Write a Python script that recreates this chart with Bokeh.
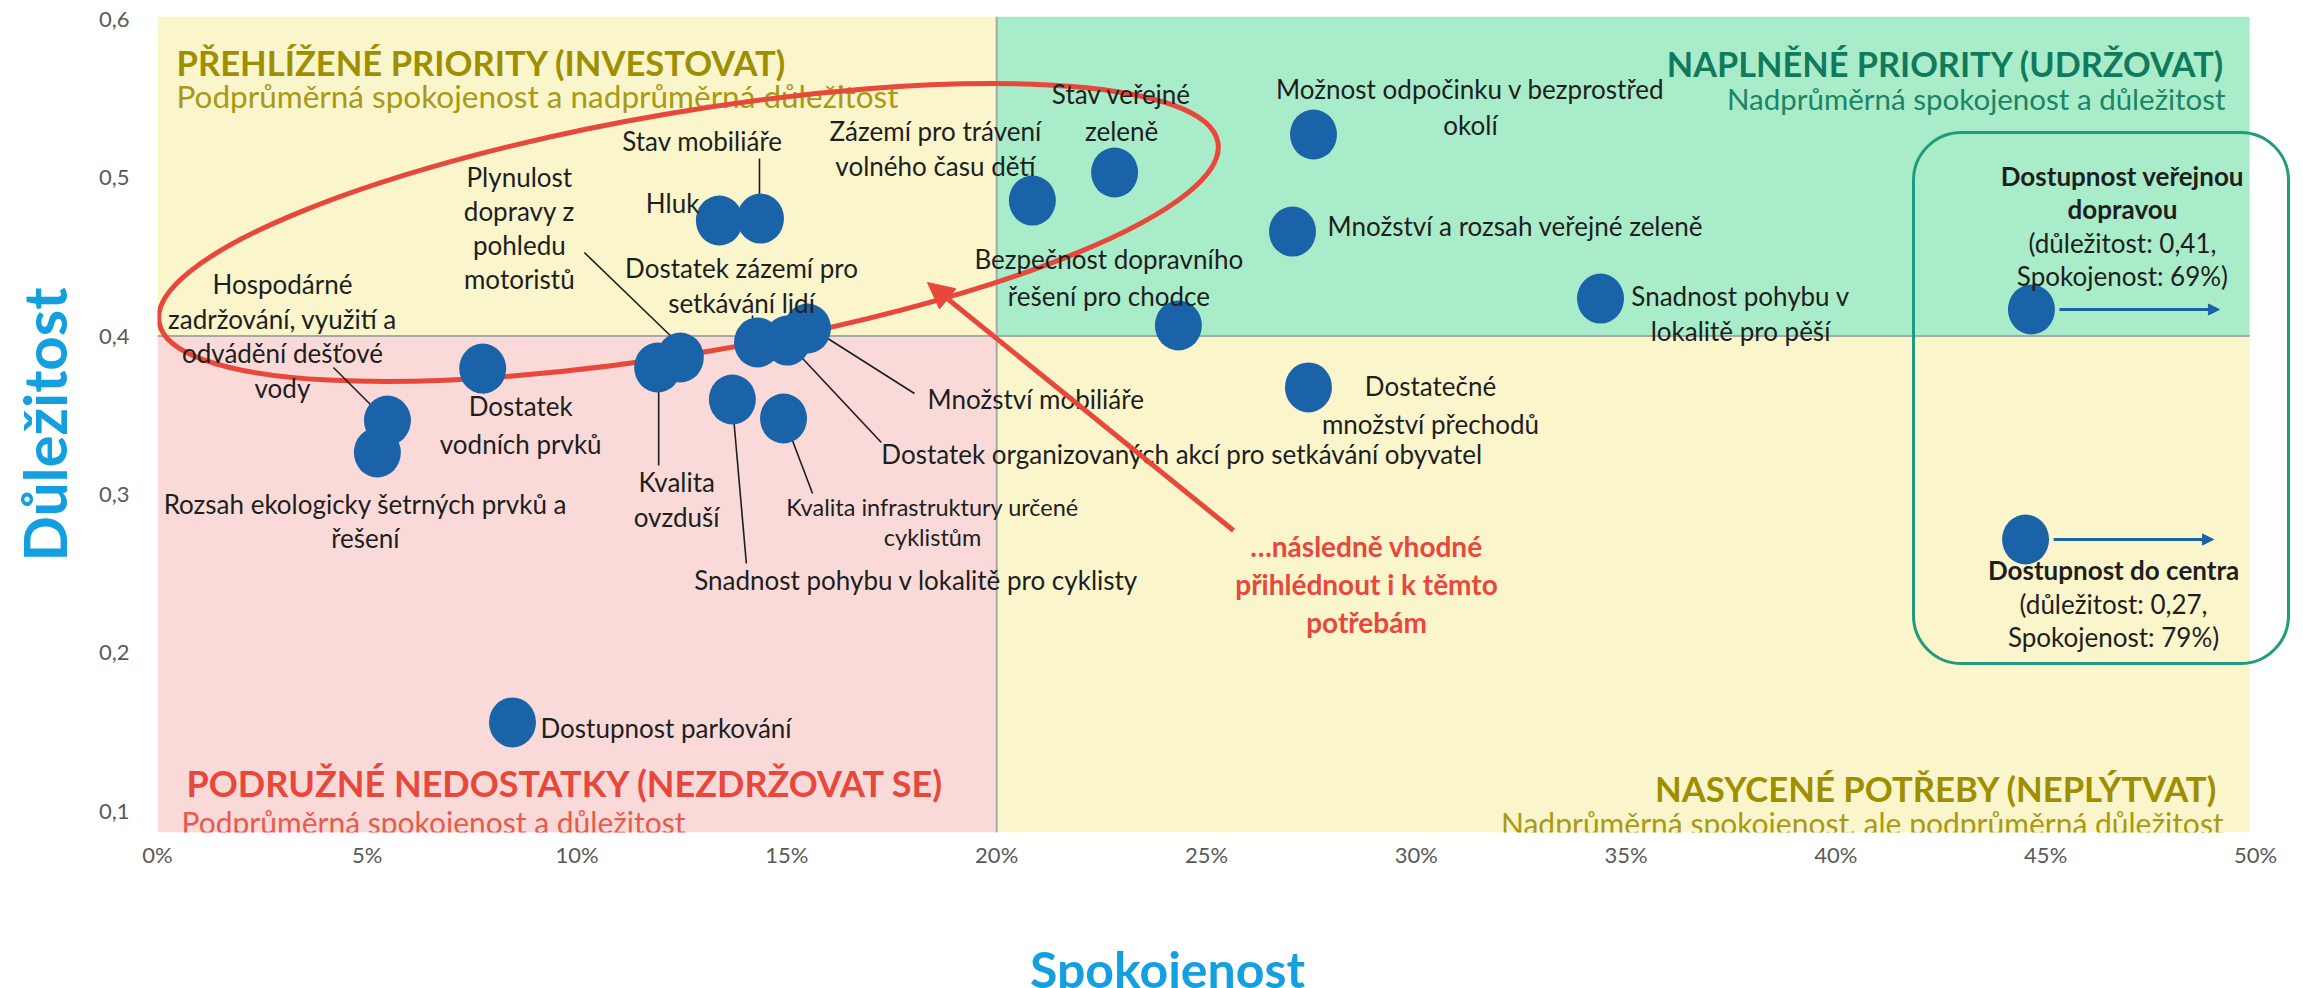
import math
from bokeh.plotting import figure
from bokeh.layouts import column
from bokeh.models import (Range1d, FixedTicker, CustomJSTickFormatter, Arrow,
                          NormalHead, BoxAnnotation, ColumnDataSource)
from bokeh.core.properties import value
from bokeh.embed import file_html
from bokeh.resources import INLINE

# ---------------- data ----------------
factors = [
    "Hospodárné\nzadržování, využití a\nodvádění dešťové\nvody",
    "Rozsah ekologicky šetrných prvků a\nřešení",
    "Dostatek\nvodních prvků",
    "Dostupnost parkování",
    "Kvalita\novzduší",
    "Plynulost\ndopravy z\npohledu\nmotoristů",
    "Hluk",
    "Snadnost pohybu v lokalitě pro cyklisty",
    "Dostatek zázemí pro\nsetkávání lidí",
    "Stav mobiliáře",
    "Kvalita infrastruktury určené\ncyklistům",
    "Dostatek organizovaných akcí pro setkávání obyvatel",
    "Množství mobiliáře",
    "Zázemí pro trávení\nvolného času dětí",
    "Stav veřejné\nzeleně",
    "Bezpečnost dopravního\nřešení pro chodce",
    "Množství a rozsah veřejné zeleně",
    "Dostatečné\nmnožství přechodů",
    "Možnost odpočinku v bezprostřed\nokolí",
    "Snadnost pohybu v\nlokalitě pro pěší",
]
satisfaction = [5.48, 5.24, 7.75, 8.46, 11.92, 12.46, 13.39, 13.70, 14.30, 14.37,
                14.92, 15.01, 15.49, 20.85, 22.81, 24.33, 27.05, 27.43, 27.55, 34.39]
importance = [0.3467, 0.3265, 0.3795, 0.1561, 0.3802, 0.3865, 0.4730, 0.3600, 0.3960, 0.4742,
              0.3480, 0.3972, 0.4048, 0.4856, 0.5033, 0.4067, 0.4660, 0.3676, 0.5273, 0.4237]

# factors whose satisfaction lies beyond the axis (drawn at the chart edge with an arrow)
offscale_factors = ["Dostupnost veřejnou\ndopravou", "Dostupnost do centra"]
offscale_importance = [0.41, 0.27]
offscale_satisfaction = [69, 79]
offscale_shown_x = [44.66, 44.52]
offscale_shown_y = [0.4168, 0.2716]

x_ticks = [0, 5, 10, 15, 20, 25, 30, 35, 40, 45, 50]
y_ticks = [0.1, 0.2, 0.3, 0.4, 0.5, 0.6]
avg_satisfaction = 20
avg_importance = 0.4

x_title = "Spokojenost"
y_title = "Důležitost"
quadrant_titles = ["PŘEHLÍŽENÉ PRIORITY (INVESTOVAT)", "NAPLNĚNÉ PRIORITY (UDRŽOVAT)",
                   "PODRUŽNÉ NEDOSTATKY (NEZDRŽOVAT SE)", "NASYCENÉ POTŘEBY (NEPLÝTVAT)"]
quadrant_subtitles = ["Podprůměrná spokojenost a nadprůměrná důležitost",
                      "Nadprůměrná spokojenost a důležitost",
                      "Podprůměrná spokojenost a důležitost",
                      "Nadprůměrná spokojenost, ale podprůměrná důležitost"]
callout_text = "…následně vhodné\npřihlédnout i k těmto\npotřebám"

# ---------------- layout / style ----------------
FONT = "Lato"
W, H = 2303, 988
H_MAIN = 880                       # main chart height; the x title strip sits below it
B_LEFT, B_TOP, B_BOTTOM, B_RIGHT = 157, 16, 48, 0
PX_X = 41.96                       # px per 1 % satisfaction
X0, X1 = 0, (W - B_LEFT - B_RIGHT) / PX_X
Y0, Y1 = 0.0866, 0.6018
QUAD_RIGHT = 49.86
FRAME_H = H_MAIN - B_TOP - B_BOTTOM
PX_Y = FRAME_H / (Y1 - Y0)

def sx_to_x(px):   # canvas px -> data x
    return X0 + (px - B_LEFT) / PX_X

def sy_to_y(py):   # canvas px -> data y
    return Y1 - (py - B_TOP) / PX_Y

BLUE = "#1B63A8"
RED = "#E8473B"
OLIVE = "#9E8F00"
OLIVE2 = "#A89A14"
TEAL = "#127A5C"
TEAL2 = "#1D8466"
LABEL_C = "#1E1E1E"
AXIS_BLUE = "#14A0E0"

# label layout: offset of label-block centre from point (px), align, line spacing, font size
label_dx = [-105, -12, 38, 28, 19, -161, -20, 184, -16, -58, 149, 94, 120, -97, 7, -69.5, 35, 122, 157, 140]
label_dy = [-84.5, 68, 56, 6, 132.5, -130, -18, 181, -56.5, -78, 104, 113, 70, -52.5, -60.5, -48.5, -6, 18, -27, 14.5]
label_align = ["center", "center", "center", "left", "center", "center", "right", "center", "center", "center",
               "center", "left", "left", "center", "center", "center", "left", "center", "center", "center"]
label_spacing = [34.7, 34, 38, 35, 35, 34, 35, 35, 35, 35, 30, 35, 35, 35, 37, 37, 35, 38, 36, 35]
label_size = [26, 26, 26, 26, 26, 26, 26, 26, 26, 26, 23.5, 26, 26, 26, 26, 26, 26, 26, 26, 26]
# leader lines (from point, px): (dx1, dy1, dx2, dy2)
leaders = {0: (-54, -53, -9, -8), 2: (1, 5, 1, 25), 4: (1, 5, 1, 98), 5: (-96, -105, -8, -20),
           7: (0, 4, 14, 164), 8: (-5, -27, -5, -4), 9: (-1, -60, -1, -13), 10: (4, 9, 29, 75),
           11: (94, 102, 5, 7), 12: (107, 65, 3, -1)}
off_dx = [91, 88]
off_first_dy = [-134, 31]
off_spacing = 33.5

p = figure(width=W, height=H_MAIN, x_range=Range1d(X0, X1), y_range=Range1d(Y0, Y1),
           output_backend="svg", toolbar_location=None,
           min_border_left=B_LEFT, min_border_right=B_RIGHT,
           min_border_top=B_TOP, min_border_bottom=B_BOTTOM)
p.outline_line_color = None
p.grid.visible = False
p.background_fill_color = "white"
p.border_fill_color = "white"

# quadrants
p.quad(left=[X0, avg_satisfaction, X0, avg_satisfaction],
       right=[avg_satisfaction, QUAD_RIGHT, avg_satisfaction, QUAD_RIGHT],
       bottom=[avg_importance, avg_importance, Y0, Y0],
       top=[Y1, Y1, avg_importance, avg_importance],
       fill_color=["#FAF5CB", "#A9ECC9", "#F9DAD8", "#FAF5CB"], line_color=None)
p.segment(x0=[avg_satisfaction, X0], y0=[Y0, avg_importance],
          x1=[avg_satisfaction, QUAD_RIGHT], y1=[Y1, avg_importance],
          line_color="#A8A8A8", line_width=2)

# quadrant titles
def qtext(x, y, txt, dx, dy, align, size, bold, color):
    p.text(x=[x], y=[y], text=[txt], x_offset=dx, y_offset=dy, text_align=align,
           text_baseline="alphabetic", text_font=value(FONT), text_font_size=f"{size}px",
           text_font_style="bold" if bold else "normal", text_color=color)

qtext(X0, Y1, quadrant_titles[0], 19, 46, "left", 34.6, True, OLIVE)
qtext(X0, Y1, quadrant_subtitles[0], 19, 79, "left", 31.5, False, OLIVE2)
qtext(QUAD_RIGHT, Y1, quadrant_titles[1], -25, 47, "right", 34.3, True, TEAL)
qtext(QUAD_RIGHT, Y1, quadrant_subtitles[1], -24, 82, "right", 29.5, False, TEAL2)
qtext(X0, Y0, quadrant_titles[2], 29, -50, "left", 36, True, RED)
qtext(X0, Y0, quadrant_subtitles[2], 24, -11, "left", 30, False, "#E85A4C")
qtext(QUAD_RIGHT, Y0, quadrant_titles[3], -32, -44, "right", 34.7, True, OLIVE)
qtext(QUAD_RIGHT, Y0, quadrant_subtitles[3], -26, -10, "right", 30, False, OLIVE2)

# red ellipse + arrow (annotation of the overlooked cluster)
p.ellipse(x=[sx_to_x(688)], y=[sy_to_y(232)], width=[1074], height=[241], angle=[math.radians(9.64)],
          width_units="screen", height_units="screen", fill_alpha=0, line_color=RED, line_width=5)
ax_tail, ay_tail = sx_to_x(1233), sy_to_y(530)
p.add_layout(Arrow(end=NormalHead(size=26, fill_color=RED, line_color=RED),
                   x_start=ax_tail, y_start=ay_tail, x_end=sx_to_x(927), y_end=sy_to_y(282),
                   line_color=RED, line_width=5))
cl = callout_text.split("\n")
p.text(x=[ax_tail] * len(cl), y=[ay_tail] * len(cl), text=cl, x_offset=133,
       y_offset=[15 + 38 * i for i in range(len(cl))], text_align="center", text_baseline="middle",
       text_font=value(FONT), text_font_size="28px", text_font_style="bold", text_color=RED)

# teal box around off-scale factors
p.add_layout(BoxAnnotation(left=sx_to_x(1913), right=sx_to_x(2288), top=sy_to_y(132), bottom=sy_to_y(663),
                           border_radius=48, fill_alpha=0, line_color="#1F9B7D", line_alpha=1.0,
                           line_width=3, level="annotation"))

# leader lines
lx0, ly0, lx1, ly1 = [], [], [], []
for i, (a, b, c, d) in leaders.items():
    lx0.append(satisfaction[i] + a / PX_X); ly0.append(importance[i] - b / PX_Y)
    lx1.append(satisfaction[i] + c / PX_X); ly1.append(importance[i] - d / PX_Y)
p.segment(x0=lx0, y0=ly0, x1=lx1, y1=ly1, line_color="#1E1E1E", line_width=1.6)

# points
p.ellipse(x=satisfaction, y=importance, width=47, height=50, width_units="screen",
          height_units="screen", fill_color=BLUE, line_color=None)
p.ellipse(x=offscale_shown_x, y=offscale_shown_y, width=47, height=50, width_units="screen",
          height_units="screen", fill_color=BLUE, line_color=None)
for sx, sy in zip(offscale_shown_x, offscale_shown_y):
    p.add_layout(Arrow(end=NormalHead(size=11, fill_color=BLUE, line_color=BLUE),
                       x_start=sx + 28 / PX_X, y_start=sy, x_end=sx + 188 / PX_X, y_end=sy,
                       line_color=BLUE, line_width=3))

# point labels
groups = {}
for i, name in enumerate(factors):
    lines = name.split("\n")
    n = len(lines)
    for j, line in enumerate(lines):
        key = (label_align[i], label_size[i], False)
        g = groups.setdefault(key, dict(x=[], y=[], t=[], dx=[], dy=[]))
        g["x"].append(satisfaction[i]); g["y"].append(importance[i]); g["t"].append(line)
        g["dx"].append(label_dx[i]); g["dy"].append(label_dy[i] + (j - (n - 1) / 2) * label_spacing[i])

for k, name in enumerate(offscale_factors):
    bold_lines = name.split("\n")
    imp = f"{offscale_importance[k]:.2f}".replace(".", ",")
    detail = [f"(důležitost: {imp},", f"Spokojenost: {offscale_satisfaction[k]}%)"]
    for j, line in enumerate(bold_lines + detail):
        key = ("center", 26, j < len(bold_lines))
        g = groups.setdefault(key, dict(x=[], y=[], t=[], dx=[], dy=[]))
        g["x"].append(offscale_shown_x[k]); g["y"].append(offscale_shown_y[k]); g["t"].append(line)
        g["dx"].append(off_dx[k]); g["dy"].append(off_first_dy[k] + j * off_spacing)

for (align, size, bold), g in groups.items():
    src = ColumnDataSource(g)
    p.text(x="x", y="y", text="t", x_offset="dx", y_offset="dy", source=src,
           text_align=align, text_baseline="middle", text_font=value(FONT),
           text_font_size=f"{size}px", text_font_style="bold" if bold else "normal",
           text_color=LABEL_C)

# axes
for ax in (p.xaxis[0], p.yaxis[0]):
    ax.axis_line_color = None
    ax.major_tick_line_color = None
    ax.minor_tick_line_color = None
    ax.major_tick_out = 0
    ax.major_tick_in = 0
    ax.minor_tick_out = 0
    ax.major_label_text_font = FONT
    ax.major_label_text_font_size = "22px"
    ax.major_label_text_color = "#595959"
    ax.axis_label_text_font = FONT
    ax.axis_label_text_font_style = "bold"
    ax.axis_label_text_color = AXIS_BLUE

p.xaxis.ticker = FixedTicker(ticks=x_ticks)
p.yaxis.ticker = FixedTicker(ticks=y_ticks)
p.xaxis.formatter = CustomJSTickFormatter(code="return Math.round(tick) + '%';")
p.yaxis.formatter = CustomJSTickFormatter(code="return tick.toFixed(1).replace('.', ',');")
p.xaxis.major_label_standoff = 8
p.yaxis.major_label_standoff = 28
p.yaxis.axis_label = y_title
p.yaxis.axis_label_text_font_size = "60px"
p.yaxis.axis_label_standoff = 16

# strip below the chart carrying the x-axis title; it shares the chart's x scale
H_STRIP = H - H_MAIN
t = figure(width=W, height=H_STRIP, x_range=p.x_range, y_range=Range1d(H_STRIP, 0),
           output_backend="svg", toolbar_location=None, title=None,
           min_border_left=B_LEFT, min_border_right=B_RIGHT, min_border_top=0, min_border_bottom=0)
t.axis.visible = False
t.grid.visible = False
t.outline_line_color = None
t.background_fill_color = "white"
t.border_fill_color = "white"
t.text(x=[sx_to_x(1167)], y=[88], text=[x_title], text_align="center", text_baseline="alphabetic",
       text_font=value(FONT), text_font_size="50px", text_font_style="bold", text_color=AXIS_BLUE)

layout = column(p, t, spacing=0)
open("out.html", "w").write(file_html(layout, INLINE))
